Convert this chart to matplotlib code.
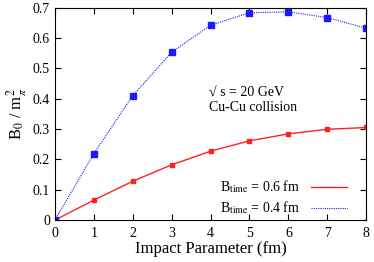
import matplotlib
matplotlib.use("Agg")
import matplotlib.pyplot as plt

plt.rcParams['font.family'] = ['Liberation Serif', 'DejaVu Serif']
plt.rcParams['mathtext.fontset'] = 'stix'

# Data
b = [0, 1, 2, 3, 4, 5, 6, 7, 8]
b0_06 = [0.0, 0.066, 0.128, 0.182, 0.227, 0.261, 0.284, 0.299, 0.305]
b0_04 = [0.0, 0.219, 0.410, 0.553, 0.642, 0.683, 0.686, 0.667, 0.632]

fig = plt.figure(figsize=(3.74, 2.62), dpi=100)
ax = fig.add_axes([0.147, 0.160, 0.832, 0.811])

ax.plot(b, b0_06, color='#ff2020', lw=1.0, marker='s', ms=3,
        label=r'B$_{\rm time}$ = 0.6 fm')
ax.plot(b, b0_04, color='#1a1aff', lw=0.8, ls=(0, (1, 1)), marker='s', ms=4.5,
        label=r'B$_{\rm time}$ = 0.4 fm')

ax.set_xlim(0, 8)
ax.set_ylim(0, 0.7)
ax.set_xticks(range(9))
ax.set_yticks([0, 0.1, 0.2, 0.3, 0.4, 0.5, 0.6, 0.7])
ax.set_yticklabels(['0', '0.1', '0.2', '0.3', '0.4', '0.5', '0.6', '0.7'])
ax.tick_params(direction='in', top=True, right=True, labelsize=10, length=4)
ax.tick_params(axis='x', pad=5)

ax.set_xlabel('Impact Parameter (fm)', fontsize=12, labelpad=1)
ax.set_ylabel(r'B$_0$ / m$_\pi^2$', fontsize=12, labelpad=3)

ax.text(3.95, 0.418, '\u221a s = 20 GeV', fontsize=10, va='center')
ax.text(3.95, 0.372, 'Cu-Cu collision', fontsize=10, va='center')

leg = ax.legend(loc='lower right', frameon=False, fontsize=10,
                markerfirst=False, handlelength=2.6, borderaxespad=0.4,
                labelspacing=0.3, bbox_to_anchor=(0.975, -0.035))
for h in leg.legend_handles:
    h.set_marker('')

fig.savefig('out.png', dpi=100)
